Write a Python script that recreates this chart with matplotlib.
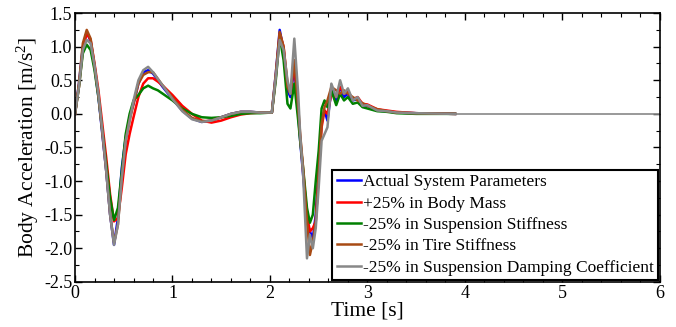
import matplotlib
matplotlib.use("Agg")
import matplotlib.pyplot as plt
from matplotlib.ticker import MultipleLocator

plt.rcParams['font.family'] = ['Liberation Serif', 'DejaVu Serif']
plt.rcParams['mathtext.fontset'] = 'custom'
plt.rcParams['mathtext.rm'] = 'Liberation Serif'
plt.rcParams['mathtext.it'] = 'Liberation Serif:italic'
plt.rcParams['axes.unicode_minus'] = False

# time samples [s]
t = [0, 0.04, 0.08, 0.12, 0.16, 0.20, 0.24, 0.28, 0.32, 0.36, 0.40, 0.44, 0.48,
     0.52, 0.56, 0.60, 0.65, 0.70, 0.75, 0.80, 0.85, 0.90, 1.0, 1.1, 1.2, 1.3,
     1.4, 1.5, 1.6, 1.7, 1.8, 1.9, 2.02, 2.06, 2.10, 2.14, 2.18, 2.21, 2.25,
     2.29, 2.31, 2.34, 2.38, 2.41, 2.44, 2.47, 2.50, 2.53, 2.56, 2.59, 2.63,
     2.68, 2.72, 2.76, 2.80, 2.85, 2.90, 2.95, 3.00, 3.1, 3.2, 3.3, 3.5, 3.9]

actual = [0, 0.45, 1.0, 1.22, 1.08, 0.7, 0.25, -0.3, -0.85, -1.5, -1.95, -1.55, -0.8,
          -0.35, -0.05, 0.15, 0.45, 0.62, 0.65, 0.6, 0.5, 0.4, 0.22, 0.05, -0.07, -0.12,
          -0.1, -0.05, 0.0, 0.03, 0.03, 0.02, 0.02, 0.6, 1.25, 0.95, 0.35, 0.25, 0.7,
          0.0, -0.4, -0.9, -1.6, -1.75, -1.85, -1.5, -0.8, -0.1, 0.05, -0.1, 0.35,
          0.2, 0.4, 0.25, 0.3, 0.2, 0.22, 0.12, 0.12, 0.05, 0.04, 0.02, 0.01, 0.0]

body_mass = [0, 0.4, 0.95, 1.2, 1.1, 0.75, 0.35, -0.15, -0.65, -1.2, -1.6, -1.55, -1.1,
             -0.6, -0.3, -0.05, 0.25, 0.45, 0.53, 0.53, 0.48, 0.42, 0.28, 0.12, 0.0, -0.1,
             -0.13, -0.1, -0.05, -0.01, 0.01, 0.02, 0.02, 0.55, 1.2, 1.0, 0.45, 0.3, 0.75,
             0.05, -0.35, -0.85, -1.5, -1.75, -1.7, -1.6, -0.9, -0.2, 0.05, 0.0, 0.3,
             0.25, 0.4, 0.3, 0.33, 0.22, 0.25, 0.15, 0.14, 0.07, 0.05, 0.03, 0.01, 0.0]

susp_stiff = [0, 0.4, 0.9, 1.03, 0.95, 0.65, 0.25, -0.25, -0.75, -1.25, -1.58, -1.4, -0.85,
              -0.3, 0.0, 0.2, 0.28, 0.38, 0.42, 0.38, 0.35, 0.3, 0.2, 0.08, 0.0, -0.05,
              -0.06, -0.05, -0.03, 0.0, 0.01, 0.01, 0.02, 0.5, 1.15, 0.8, 0.15, 0.08, 0.45,
              -0.1, -0.4, -0.8, -1.4, -1.62, -1.5, -1.0, -0.55, 0.08, 0.2, 0.1, 0.35,
              0.13, 0.3, 0.2, 0.25, 0.15, 0.17, 0.1, 0.08, 0.04, 0.03, 0.01, 0.0, 0.0]

tire_stiff = [0, 0.45, 1.05, 1.25, 1.12, 0.72, 0.28, -0.28, -0.85, -1.5, -1.92, -1.65, -0.95,
              -0.4, -0.1, 0.15, 0.45, 0.58, 0.62, 0.62, 0.52, 0.42, 0.24, 0.06, -0.06, -0.11,
              -0.1, -0.05, 0.0, 0.03, 0.03, 0.02, 0.02, 0.6, 1.22, 1.0, 0.4, 0.3, 0.8,
              0.1, -0.3, -0.8, -1.6, -2.1, -1.9, -1.6, -0.9, -0.15, 0.1, 0.2, 0.4,
              0.35, 0.3, 0.35, 0.3, 0.25, 0.2, 0.16, 0.12, 0.07, 0.04, 0.02, 0.01, 0.0]

damping = [0, 0.4, 0.95, 1.1, 1.05, 0.72, 0.3, -0.25, -0.85, -1.5, -1.95, -1.65, -0.95,
           -0.4, -0.1, 0.2, 0.5, 0.65, 0.7, 0.62, 0.52, 0.42, 0.22, 0.04, -0.08, -0.12,
           -0.1, -0.05, 0.0, 0.03, 0.03, 0.02, 0.02, 0.55, 1.1, 0.95, 0.5, 0.3, 1.12,
           0.3, -0.3, -0.9, -2.15, -1.8, -2.0, -1.7, -1.1, -0.4, -0.3, -0.2, 0.45,
           0.25, 0.5, 0.3, 0.38, 0.2, 0.25, 0.12, 0.13, 0.05, 0.04, 0.02, 0.01, 0.0]

# settled tail that continues to the end of the run
tail_t = [3.9, 6.0]
tail_v = [0.0, 0.0]

labels = ['Actual System Parameters', '+25% in Body Mass', '-25% in Suspension Stiffness',
          '-25% in Tire Stiffness', '-25% in Suspension Damping Coefficient']
colors = ['#0000ff', '#ff0000', '#008000', '#a84a14', '#888888']
series = [actual, body_mass, susp_stiff, tire_stiff, damping]

fig = plt.figure(figsize=(6.76, 3.27), dpi=100)
ax = fig.add_axes([0.111, 0.138, 0.865, 0.822])

for vals, c, lab in zip(series, colors, labels):
    ax.plot(t, vals, color=c, linewidth=1.8, label=lab)
ax.plot(tail_t, tail_v, color=colors[-1], linewidth=1.2)

ax.set_xlim(0, 6)
ax.set_ylim(-2.5, 1.5)
ax.xaxis.set_major_locator(MultipleLocator(1))
ax.xaxis.set_minor_locator(MultipleLocator(0.2))
ax.yaxis.set_major_locator(MultipleLocator(0.5))
ax.yaxis.set_minor_locator(MultipleLocator(0.25))
ax.tick_params(which='both', direction='in', top=True, right=True, labelsize=13, pad=2)
ax.tick_params(which='major', length=5, width=1)
ax.tick_params(which='minor', length=3, width=0.8)
for s in ax.spines.values():
    s.set_linewidth(1.2)

ax.set_xlabel('Time [s]', fontsize=15.5, labelpad=0)
ax.set_ylabel('Body Acceleration [m/s$^2$]', fontsize=15.5, labelpad=2)

leg = ax.legend(loc='lower right', fontsize=12.5, handlelength=1.4, handletextpad=0.1,
                labelspacing=0.3, borderpad=0.25, borderaxespad=0.1, fancybox=False,
                framealpha=1)
leg.get_frame().set_edgecolor('black')
leg.get_frame().set_linewidth(1.5)

plt.savefig('out.png', dpi=100)
